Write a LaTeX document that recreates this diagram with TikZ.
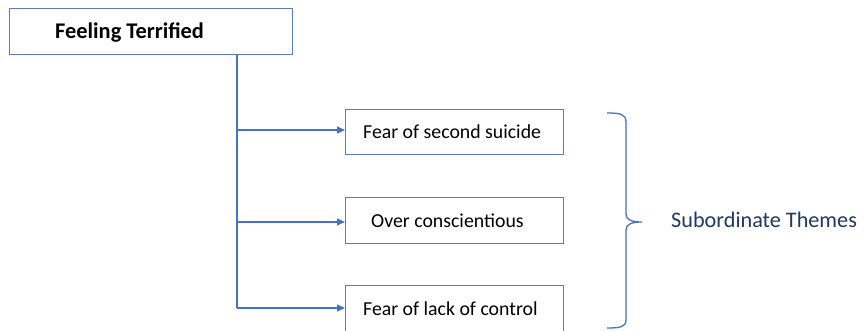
\documentclass[tikz,border=0pt]{standalone}
\usepackage{fontspec}
\setmainfont{Carlito}
\usetikzlibrary{arrows.meta}
\definecolor{lineblue}{HTML}{4472C4}
\definecolor{boxblue}{HTML}{5B7FB5}
\definecolor{navy}{HTML}{1F3864}
\tikzset{
  box/.style={draw=boxblue, line width=1pt, fill=white, inner sep=0pt},
  conn/.style={draw=lineblue, line width=1.2pt},
  arr/.style={conn, -{Triangle[length=8pt,width=7pt]}},
  lbl/.style={font=\fontsize{19.8}{23}\selectfont, anchor=west, inner sep=0pt}
}
\begin{document}
\begin{tikzpicture}[x=1pt,y=-1pt]
\useasboundingbox (0,0) rectangle (864,331);
\fill[white] (0,0) rectangle (864,331);
% top box
\path[box] (9,9) rectangle (292,55);
\node[lbl, font=\fontsize{22.4}{26}\selectfont\bfseries] (top) at (55,33) {Feeling Terrified};
\coordinate (tb) at (237,55);
% child boxes
\path[box] (345,110) rectangle (563,155);
\coordinate (b1) at (345,132);
\node[lbl] (t1) at (363,132) {Fear of second suicide};
\path[box] (345,197) rectangle (563,243);
\coordinate (b2) at (345,221);
\node[lbl] (t2) at (371,221) {Over conscientious};
\path[box] (345,285) rectangle (563,340);
\coordinate (b3) at (345,308);
\node[lbl] (t3) at (363,309) {Fear of lack of control};
% trunk
\coordinate (j1) at (237,130);
\coordinate (j2) at (237,222);
\coordinate (j3) at (237,308);
\draw[conn] (tb) -- (j3);
\draw[arr] (j1) -- (b1 |- j1);
\draw[arr] (j2) -- (b2 |- j2);
\draw[arr] (j3) -- (b3 |- j3);
% brace
\coordinate (bt) at (607,113);
\coordinate (bb) at (607,328);
\coordinate (bm) at (642,222);
\draw[conn, line width=1.3pt] (bt) .. controls (620,113) and (626,114) .. (626,122)
  -- (626,214) .. controls (626,220) and (632,222) .. (bm)
  .. controls (632,222) and (626,224) .. (626,230)
  -- (626,320) .. controls (626,327) and (620,328) .. (bb);
\node[lbl, text=navy, font=\fontsize{22.2}{26}\selectfont] (sub) at (671,220) {Subordinate Themes};
\end{tikzpicture}
\end{document}
